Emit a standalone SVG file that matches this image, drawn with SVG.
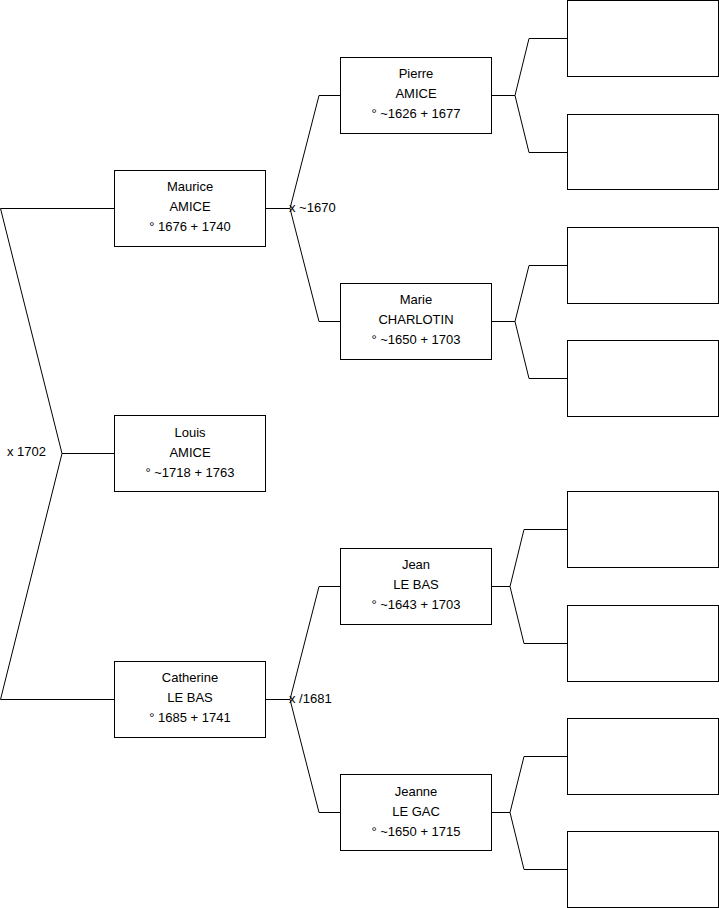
<svg xmlns="http://www.w3.org/2000/svg" width="719" height="908" viewBox="0 0 719 908">
<style>
.box{fill:#fff;stroke:#000;stroke-width:1}
.ln{fill:none;stroke:#000;stroke-width:1}
text{font-family:"Liberation Sans",Arial,sans-serif;font-size:13px;fill:#000}
.c{text-anchor:middle}
</style>
<rect width="719" height="908" fill="#fff"/>
<g id="connectors">
<polyline class="ln" points="114,208.5 0.5,208.5 62,453.5 0.5,699.5 114,699.5"/>
<line class="ln" x1="62" y1="453.5" x2="114" y2="453.5"/>
<line class="ln" x1="265" y1="208.5" x2="290" y2="208.5"/>
<polyline class="ln" points="340,95.5 319,95.5 290,208.5 319,321.5 340,321.5"/>
<line class="ln" x1="265" y1="699.5" x2="290" y2="699.5"/>
<polyline class="ln" points="340,586.5 319,586.5 290,699.5 319,812.5 340,812.5"/>
<line class="ln" x1="491" y1="95.5" x2="515" y2="95.5"/>
<polyline class="ln" points="567,38.5 529,38.5 515,95.5 529,152.5 567,152.5"/>
<line class="ln" x1="491" y1="321.5" x2="515" y2="321.5"/>
<polyline class="ln" points="567,265.5 529,265.5 515,321.5 529,378.5 567,378.5"/>
<line class="ln" x1="491" y1="586.5" x2="510" y2="586.5"/>
<polyline class="ln" points="567,529.5 524,529.5 510,586.5 524,643.5 567,643.5"/>
<line class="ln" x1="491" y1="812.5" x2="510" y2="812.5"/>
<polyline class="ln" points="567,756.5 524,756.5 510,812.5 524,869.5 567,869.5"/>
<text x="7" y="456">x 1702</text>
<text x="289" y="212">x ~1670</text>
<text x="289" y="703">x /1681</text>
</g>
<g id="maurice">
<rect class="box" x="114.5" y="170.5" width="151" height="76"/>
<text class="c" x="190" y="191">Maurice</text>
<text class="c" x="190" y="211">AMICE</text>
<text class="c" x="190" y="231">° 1676 + 1740</text>
</g>
<g id="louis">
<rect class="box" x="114.5" y="415.5" width="151" height="76"/>
<text class="c" x="190" y="437">Louis</text>
<text class="c" x="190" y="457">AMICE</text>
<text class="c" x="190" y="477">° ~1718 + 1763</text>
</g>
<g id="catherine">
<rect class="box" x="114.5" y="661.5" width="151" height="76"/>
<text class="c" x="190" y="682">Catherine</text>
<text class="c" x="190" y="702">LE BAS</text>
<text class="c" x="190" y="722">° 1685 + 1741</text>
</g>
<g id="pierre">
<rect class="box" x="340.5" y="57.5" width="151" height="76"/>
<text class="c" x="416" y="78">Pierre</text>
<text class="c" x="416" y="98">AMICE</text>
<text class="c" x="416" y="118">° ~1626 + 1677</text>
</g>
<g id="marie">
<rect class="box" x="340.5" y="283.5" width="151" height="76"/>
<text class="c" x="416" y="304">Marie</text>
<text class="c" x="416" y="324">CHARLOTIN</text>
<text class="c" x="416" y="344">° ~1650 + 1703</text>
</g>
<g id="jean">
<rect class="box" x="340.5" y="548.5" width="151" height="76"/>
<text class="c" x="416" y="569">Jean</text>
<text class="c" x="416" y="589">LE BAS</text>
<text class="c" x="416" y="609">° ~1643 + 1703</text>
</g>
<g id="jeanne">
<rect class="box" x="340.5" y="774.5" width="151" height="76"/>
<text class="c" x="416" y="796">Jeanne</text>
<text class="c" x="416" y="816">LE GAC</text>
<text class="c" x="416" y="836">° ~1650 + 1715</text>
</g>
<g id="p1"><rect class="box" x="567.5" y="0.5" width="151" height="76"/></g>
<g id="p2"><rect class="box" x="567.5" y="114.5" width="151" height="75"/></g>
<g id="p3"><rect class="box" x="567.5" y="227.5" width="151" height="76"/></g>
<g id="p4"><rect class="box" x="567.5" y="340.5" width="151" height="76"/></g>
<g id="p5"><rect class="box" x="567.5" y="491.5" width="151" height="76"/></g>
<g id="p6"><rect class="box" x="567.5" y="605.5" width="151" height="76"/></g>
<g id="p7"><rect class="box" x="567.5" y="718.5" width="151" height="76"/></g>
<g id="p8"><rect class="box" x="567.5" y="831.5" width="151" height="76"/></g>
</svg>
